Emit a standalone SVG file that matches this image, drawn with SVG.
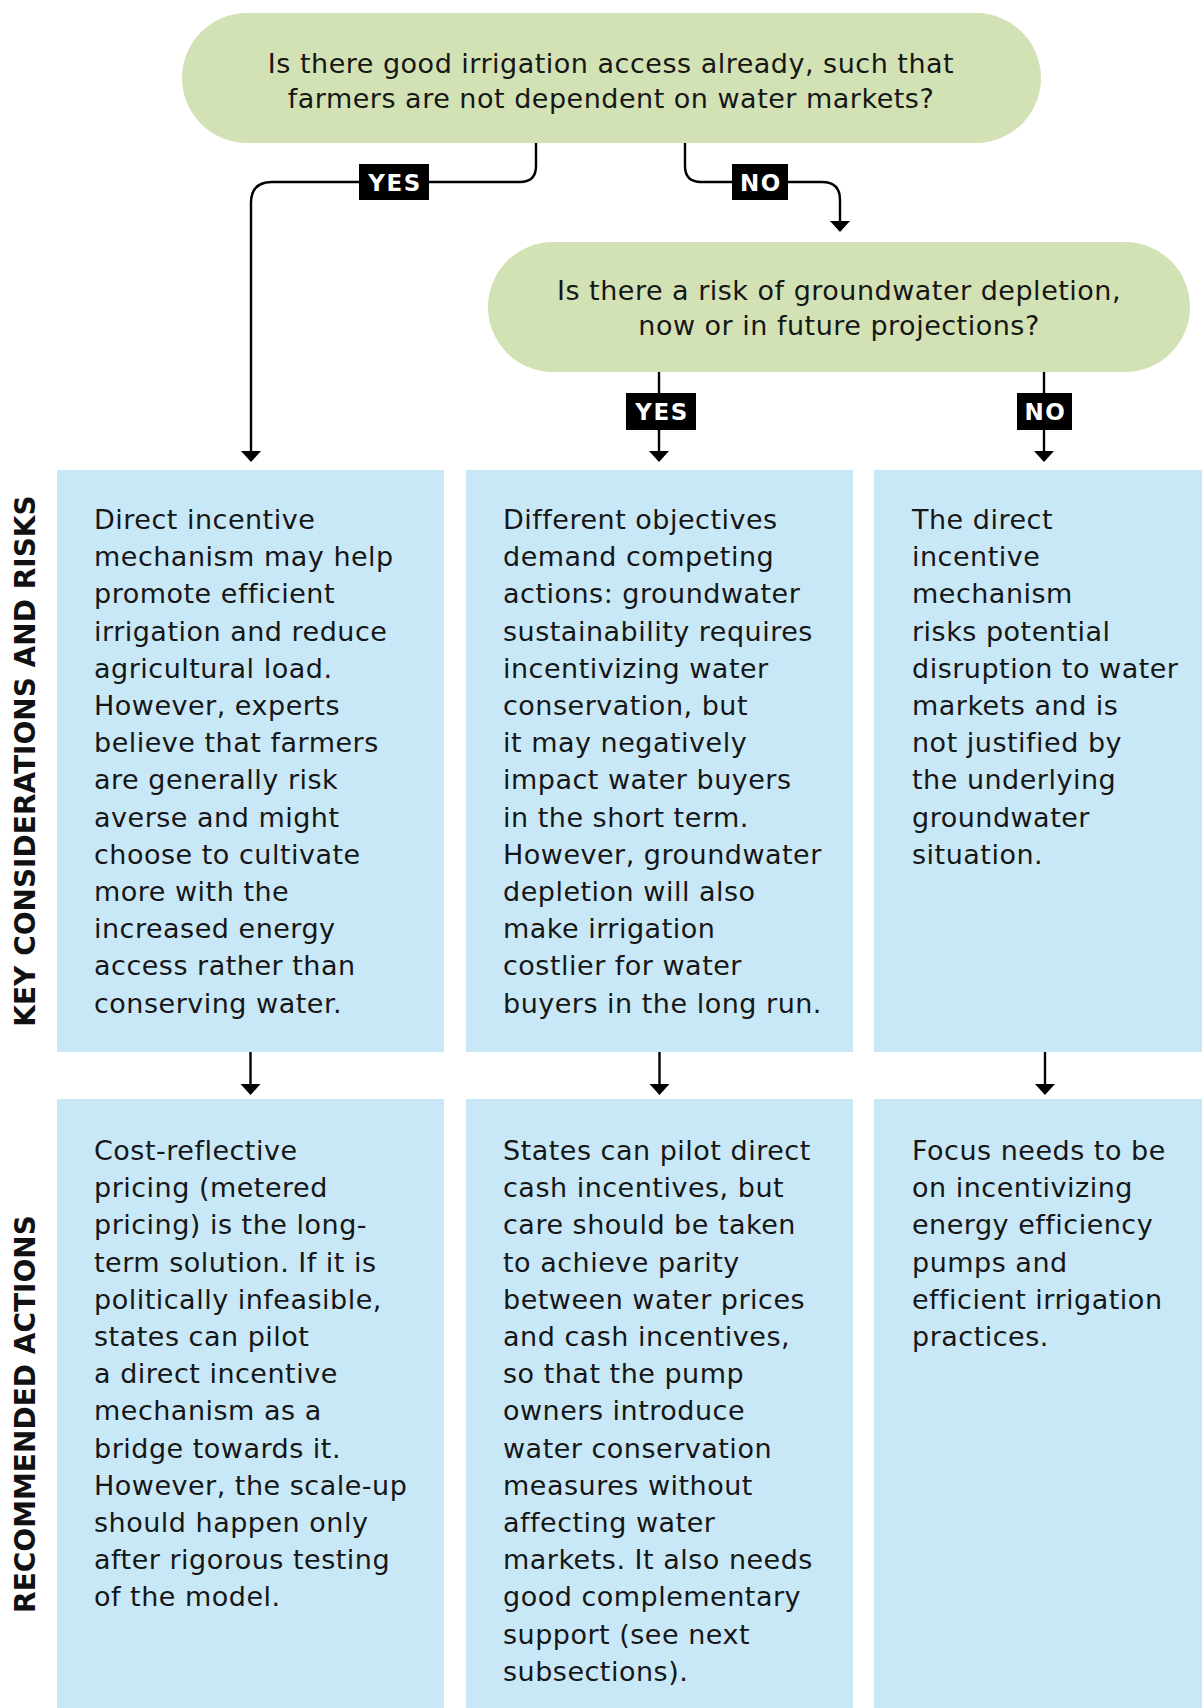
<svg xmlns="http://www.w3.org/2000/svg" width="1202" height="1708" viewBox="0 0 1202 1708">
<defs>
<style>
.q{fill:#d3e2b4}
.box{fill:#c8e8f7}
.t{font-family:"DejaVu Sans",sans-serif;font-size:27px;letter-spacing:0.5px;fill:#161616}
.qt{text-anchor:middle}
.side{font-family:"DejaVu Sans",sans-serif;font-weight:bold;font-size:28px;fill:#111;text-anchor:middle}
.lbl{fill:#000}
.lt{font-family:"DejaVu Sans",sans-serif;font-weight:bold;font-size:23px;letter-spacing:1.5px;fill:#fff;text-anchor:middle}
.c{fill:none;stroke:#000;stroke-width:2.4}
</style>
<marker id="ah" markerUnits="userSpaceOnUse" markerWidth="12" markerHeight="20" refX="1" refY="10" orient="auto" overflow="visible">
<path d="M0,0 L11,10 L0,20 Z" fill="#000"/>
</marker>
</defs>
<rect width="1202" height="1708" fill="#fff"/>

<g id="q1">
<rect class="q" x="182" y="13" width="859" height="130" rx="65" ry="65"/>
<text class="t qt" x="611" y="73">Is there good irrigation access already, such that</text>
<text class="t qt" x="611" y="108">farmers are not dependent on water markets?</text>
</g>

<g id="q2">
<rect class="q" x="488" y="242" width="702" height="130" rx="65" ry="65"/>
<text class="t qt" x="839" y="300">Is there a risk of groundwater depletion,</text>
<text class="t qt" x="839" y="335">now or in future projections?</text>
</g>

<g id="connectors">
<path class="c" d="M536,143 V166 Q536,182 520,182 H272 Q251,182 251,203 V452" marker-end="url(#ah)"/>
<path class="c" d="M685,143 V166 Q685,182 701,182 H822 Q840,182 840,200 V222" marker-end="url(#ah)"/>
<path class="c" d="M659,372 V452" marker-end="url(#ah)"/>
<path class="c" d="M1044,372 V452" marker-end="url(#ah)"/>
<path class="c" d="M250.5,1052 V1085" marker-end="url(#ah)"/>
<path class="c" d="M659.5,1052 V1085" marker-end="url(#ah)"/>
<path class="c" d="M1045,1052 V1085" marker-end="url(#ah)"/>
<g id="label-yes1"><rect class="lbl" x="359" y="164" width="70" height="36"/><text class="lt" x="395" y="190.5">YES</text></g>
<g id="label-no1"><rect class="lbl" x="732" y="164" width="56" height="36"/><text class="lt" x="761" y="190.5">NO</text></g>
<g id="label-yes2"><rect class="lbl" x="626" y="393" width="70" height="37"/><text class="lt" x="662" y="420">YES</text></g>
<g id="label-no2"><rect class="lbl" x="1017" y="393" width="55" height="37"/><text class="lt" x="1045.5" y="420">NO</text></g>
</g>

<g id="side-labels">
<text class="side" transform="translate(35,761) rotate(-90)">KEY CONSIDERATIONS AND RISKS</text>
<text class="side" transform="translate(35,1414) rotate(-90)">RECOMMENDED ACTIONS</text>
</g>

<g id="risk-yes">
<rect class="box" x="57" y="470" width="387" height="582"/>
<text class="t" x="94" y="529"><tspan x="94">Direct incentive</tspan><tspan x="94" dy="37.2">mechanism may help</tspan><tspan x="94" dy="37.2">promote efficient</tspan><tspan x="94" dy="37.2">irrigation and reduce</tspan><tspan x="94" dy="37.2">agricultural load.</tspan><tspan x="94" dy="37.2">However, experts</tspan><tspan x="94" dy="37.2">believe that farmers</tspan><tspan x="94" dy="37.2">are generally risk</tspan><tspan x="94" dy="37.2">averse and might</tspan><tspan x="94" dy="37.2">choose to cultivate</tspan><tspan x="94" dy="37.2">more with the</tspan><tspan x="94" dy="37.2">increased energy</tspan><tspan x="94" dy="37.2">access rather than</tspan><tspan x="94" dy="37.2">conserving water.</tspan></text>
</g>

<g id="risk-no-yes">
<rect class="box" x="466" y="470" width="387" height="582"/>
<text class="t" x="503" y="529"><tspan x="503">Different objectives</tspan><tspan x="503" dy="37.2">demand competing</tspan><tspan x="503" dy="37.2">actions: groundwater</tspan><tspan x="503" dy="37.2">sustainability requires</tspan><tspan x="503" dy="37.2">incentivizing water</tspan><tspan x="503" dy="37.2">conservation, but</tspan><tspan x="503" dy="37.2">it may negatively</tspan><tspan x="503" dy="37.2">impact water buyers</tspan><tspan x="503" dy="37.2">in the short term.</tspan><tspan x="503" dy="37.2">However, groundwater</tspan><tspan x="503" dy="37.2">depletion will also</tspan><tspan x="503" dy="37.2">make irrigation</tspan><tspan x="503" dy="37.2">costlier for water</tspan><tspan x="503" dy="37.2">buyers in the long run.</tspan></text>
</g>

<g id="risk-no-no">
<rect class="box" x="874" y="470" width="328" height="582"/>
<text class="t" x="912" y="529"><tspan x="912">The direct</tspan><tspan x="912" dy="37.2">incentive</tspan><tspan x="912" dy="37.2">mechanism</tspan><tspan x="912" dy="37.2">risks potential</tspan><tspan x="912" dy="37.2">disruption to water</tspan><tspan x="912" dy="37.2">markets and is</tspan><tspan x="912" dy="37.2">not justified by</tspan><tspan x="912" dy="37.2">the underlying</tspan><tspan x="912" dy="37.2">groundwater</tspan><tspan x="912" dy="37.2">situation.</tspan></text>
</g>

<g id="action-yes">
<rect class="box" x="57" y="1099" width="387" height="609"/>
<text class="t" x="94" y="1160"><tspan x="94">Cost-reflective</tspan><tspan x="94" dy="37.2">pricing (metered</tspan><tspan x="94" dy="37.2">pricing) is the long-</tspan><tspan x="94" dy="37.2">term solution. If it is</tspan><tspan x="94" dy="37.2">politically infeasible,</tspan><tspan x="94" dy="37.2">states can pilot</tspan><tspan x="94" dy="37.2">a direct incentive</tspan><tspan x="94" dy="37.2">mechanism as a</tspan><tspan x="94" dy="37.2">bridge towards it.</tspan><tspan x="94" dy="37.2">However, the scale-up</tspan><tspan x="94" dy="37.2">should happen only</tspan><tspan x="94" dy="37.2">after rigorous testing</tspan><tspan x="94" dy="37.2">of the model.</tspan></text>
</g>

<g id="action-no-yes">
<rect class="box" x="466" y="1099" width="387" height="609"/>
<text class="t" x="503" y="1160"><tspan x="503">States can pilot direct</tspan><tspan x="503" dy="37.2">cash incentives, but</tspan><tspan x="503" dy="37.2">care should be taken</tspan><tspan x="503" dy="37.2">to achieve parity</tspan><tspan x="503" dy="37.2">between water prices</tspan><tspan x="503" dy="37.2">and cash incentives,</tspan><tspan x="503" dy="37.2">so that the pump</tspan><tspan x="503" dy="37.2">owners introduce</tspan><tspan x="503" dy="37.2">water conservation</tspan><tspan x="503" dy="37.2">measures without</tspan><tspan x="503" dy="37.2">affecting water</tspan><tspan x="503" dy="37.2">markets. It also needs</tspan><tspan x="503" dy="37.2">good complementary</tspan><tspan x="503" dy="37.2">support (see next</tspan><tspan x="503" dy="37.2">subsections).</tspan></text>
</g>

<g id="action-no-no">
<rect class="box" x="874" y="1099" width="328" height="609"/>
<text class="t" x="912" y="1160"><tspan x="912">Focus needs to be</tspan><tspan x="912" dy="37.2">on incentivizing</tspan><tspan x="912" dy="37.2">energy efficiency</tspan><tspan x="912" dy="37.2">pumps and</tspan><tspan x="912" dy="37.2">efficient irrigation</tspan><tspan x="912" dy="37.2">practices.</tspan></text>
</g>
</svg>
